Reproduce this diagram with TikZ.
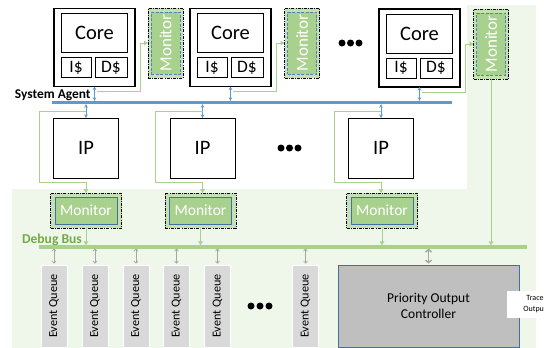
\documentclass[tikz,border=0pt]{standalone}
\usepackage{fontspec}
\usepackage{graphicx}
\setmainfont{Carlito}
\usetikzlibrary{arrows.meta,calc}

\definecolor{bggreen}{HTML}{EFF6EA}
\definecolor{mongreen}{HTML}{A9D18E}
\definecolor{monpale}{HTML}{C5E0B4}
\definecolor{linegreen}{HTML}{A9D18E}
\definecolor{labelgreen}{HTML}{70AD47}
\definecolor{busblue}{HTML}{5B9BD5}
\definecolor{dashblue}{HTML}{4F81BD}
\definecolor{edgeblue}{HTML}{41719C}
\definecolor{qgray}{HTML}{D9D9D9}
\definecolor{pgray}{HTML}{BFBFBF}
\definecolor{agray}{HTML}{A6A6A6}

\begin{document}
\begin{tikzpicture}[x=1pt,y=-1pt,
  every node/.style={inner sep=0pt, outer sep=0pt},
  corebox/.style={draw=black, line width=1.2pt, fill=white,
    minimum width=81pt, minimum height=78pt},
  cell/.style={draw=black, line width=0.8pt, fill=white},
  ipbox/.style={draw=black, line width=0.8pt, fill=white,
    minimum width=65pt, minimum height=60pt, font=\fontsize{20.5}{20.5}\selectfont},
  monframe/.style={draw=black, line width=0.8pt, fill=monpale,
    dash pattern=on 3pt off 1.2pt on 0.8pt off 1.2pt},
  vmonin/.style={draw=dashblue, line width=0.6pt, dash pattern=on 3pt off 1.5pt,
    fill=mongreen, minimum width=29pt, minimum height=62pt, text=white,
    font=\fontsize{17}{17}\selectfont},
  hmonin/.style={draw=edgeblue, line width=0.8pt, fill=mongreen,
    minimum width=62pt, minimum height=27pt, text=white,
    font=\fontsize{15.5}{15.5}\selectfont},
  equeue/.style={draw=white, line width=1pt, fill=qgray,
    minimum width=26pt, minimum height=82pt, font=\fontsize{12.2}{12.2}\selectfont},
  pocbox/.style={draw=edgeblue, line width=1pt, fill=pgray,
    minimum width=181pt, minimum height=82pt, align=center,
    font=\fontsize{13.5}{16}\selectfont},
  busline/.style={draw=busblue, line width=3.2pt},
  dbusline/.style={draw=linegreen, line width=3.2pt},
  gline/.style={draw=linegreen, line width=1pt},
  garrow/.style={gline, -{Triangle[length=4pt,width=4.5pt]}},
  barrow/.style={draw=busblue, line width=0.8pt,
    {Stealth[length=3.5pt,width=3.5pt]}-{Stealth[length=3.5pt,width=3.5pt]}},
  qarrow/.style={draw=agray, line width=0.6pt,
    {Straight Barb[length=2pt,width=4pt]}-{Straight Barb[length=2pt,width=4pt]}},
  parrow/.style={draw=agray, line width=1.4pt,
    {Straight Barb[length=2.5pt,width=6pt]}-{Straight Barb[length=2.5pt,width=6pt]}}
]
\useasboundingbox (0,0) rectangle (544,348);

% shaded debug infrastructure regions
\fill[bggreen] (467,5) rectangle (536,191);
\fill[bggreen] (12,189) rectangle (536,348);

% bus reference coordinates
\coordinate (sa-l) at (52,102.5);
\coordinate (sa-r) at (452,102.5);
\coordinate (sa-top) at (0,100.8);
\coordinate (sa-bot) at (0,104.2);
\coordinate (db-l) at (39,247);
\coordinate (db-r) at (527,247);
\coordinate (db-top) at (0,245.3);
\coordinate (db-bot) at (0,248.7);

% cores with private caches
\foreach \n/\x/\y in {1/94.5/47.5, 2/230.5/47.5, 3/419.5/48}{
  \node[corebox] (core\n) at (\x,\y) {};
  \node[cell, minimum width=66pt, minimum height=39pt,
    font=\fontsize{20.5}{20.5}\selectfont] (core\n-c) at ($(core\n.north)+(0,24.5)$) {Core};
  \node[cell, minimum width=30pt, minimum height=20pt,
    font=\fontsize{17.5}{17.5}\selectfont] (core\n-i) at ($(core\n)+(-18.5,20)$) {I\$};
  \node[cell, minimum width=32pt, minimum height=20pt,
    font=\fontsize{17.5}{17.5}\selectfont] (core\n-d) at ($(core\n)+(16.5,20)$) {D\$};
}

% per-core monitors
\foreach \n/\x/\y in {1/165.5/43, 2/302/43, 3/491/44}{
  \node[monframe, minimum width=35pt, minimum height=70pt] (mon\n) at (\x,\y) {};
  \node[vmonin] (mon\n-i) at (mon\n) {\rotatebox{90}{Monitor}};
}

% ellipses
\foreach \x in {342,350.5,359} \fill (\x,43) circle (3.5pt);
\foreach \x in {281,289.5,298} \fill (\x,148) circle (3.5pt);
\foreach \x in {251,260,269} \fill (\x,306) circle (3.5pt);

% system agent
\node[anchor=west, font=\bfseries\fontsize{13.4}{13.4}\selectfont] (salabel) at (15,95) {System Agent};
\draw[busline] (sa-l) -- (sa-r);

% IP blocks
\foreach \n/\x in {1/86, 2/202.5, 3/381}{
  \node[ipbox] (ip\n) at (\x,148) {IP};
}

% IP monitors
\foreach \n/\x in {1/86, 2/200.5, 3/382}{
  \node[monframe, minimum width=71pt, minimum height=35pt] (lmon\n) at (\x,210.5) {};
  \node[hmonin] (lmon\n-i) at (lmon\n) {Monitor};
}

% core links to the system agent and to monitors
\foreach \n in {1,2,3}{
  \draw[barrow] (core\n.south) -- (core\n.south |- sa-top);
  \draw[barrow] (ip\n.north) -- (ip\n.north |- sa-bot);
}
\draw[garrow] ($(core1.south)+(2.5,4.5)$) -| ($(mon1.west)+(-8,0)$) -- (mon1.west);
\draw[garrow] ($(core2.south)+(2.5,4.5)$) -| ($(mon2.west)+(-8,0)$) -- (mon2.west);
\draw[garrow] ($(core3.south)+(2.5,5.5)$) -| ($(mon3.west)+(-8,0)$) -- (mon3.west);

% IP traffic taps
\foreach \n in {1,2,3}{
  \draw[garrow] ($(ip\n.north)+(0,-7)$) -- ++(-47,0) |- ($(ip\n.south)+(0,4)$)
    -- (ip\n.south |- lmon\n.north);
}

% debug bus
\node[anchor=west, font=\bfseries\fontsize{13.6}{13.6}\selectfont, text=labelgreen] (dblabel) at (22,239.5) {Debug Bus};
\draw[dbusline] (db-l) -- (db-r);
\foreach \n in {1,2,3}{
  \draw[garrow] (lmon\n.south) -- (lmon\n.south |- db-top);
}
\draw[garrow] (mon3.south) -- (mon3.south |- db-top);

% event queues
\foreach \n/\x in {1/54, 2/95, 3/136, 4/176.5, 5/217.5, 6/305.5}{
  \node[equeue] (eq\n) at (\x,306) {\rotatebox{90}{Event Queue}};
  \draw[qarrow] (eq\n.north |- db-bot) -- ($(eq\n.north)+(0,-1.5)$);
}

% output controller
\node[pocbox] (poc) at (428.5,306) {Priority Output\\Controller};
\draw[parrow] (poc.north |- db-bot) -- ($(poc.north)+(0,-1.5)$);
\node[fill=white, minimum width=56pt, minimum height=27pt] (trace) at (535,304.5) {};
\node[text width=30pt, align=center, font=\fontsize{8}{11}\selectfont] (trace-txt) at (trace) {Trace\\Output};

\end{tikzpicture}
\end{document}
